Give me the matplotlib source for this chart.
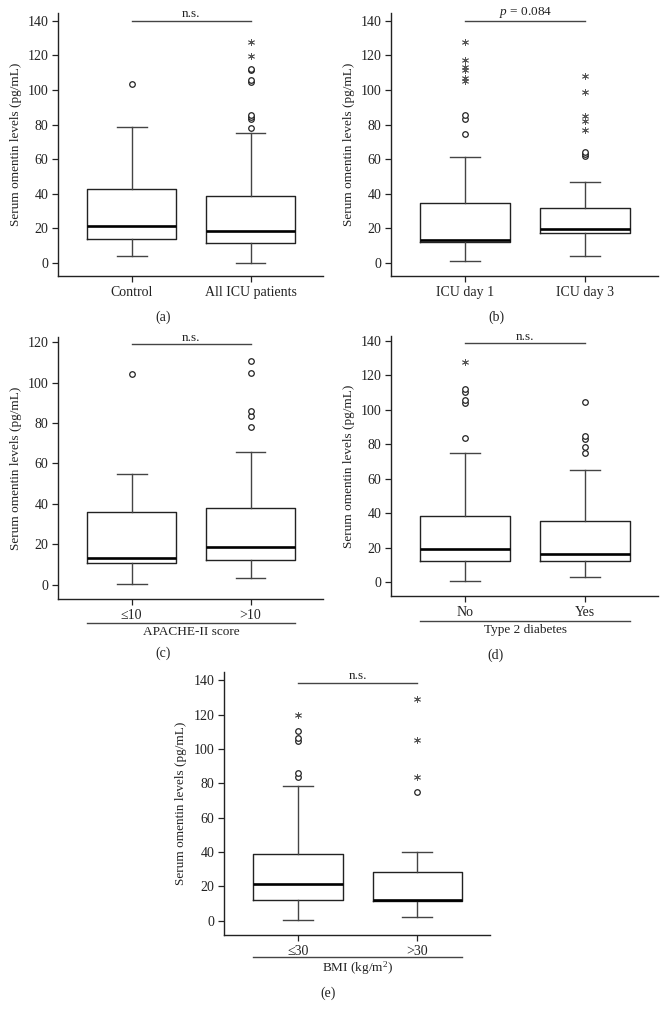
import matplotlib
matplotlib.use('Agg')
import matplotlib.pyplot as plt
import matplotlib.transforms as mtransforms

plt.rcParams['font.family'] = ['Liberation Serif', 'DejaVu Serif']
plt.rcParams['mathtext.fontset'] = 'custom'
plt.rcParams['mathtext.rm'] = 'Liberation Serif'
plt.rcParams['mathtext.it'] = 'Liberation Serif:italic'
plt.rcParams['font.size'] = 9.5
plt.rcParams['text.color'] = '#222222'
plt.rcParams['axes.labelcolor'] = '#222222'
plt.rcParams['xtick.color'] = '#222222'
plt.rcParams['ytick.color'] = '#222222'

W, H = 666, 1021

# box = [lower whisker, Q1, median, Q3, upper whisker]
# (a)
control_box = [3.9, 13.7, 21.2, 43.0, 78.7]
control_circles = [103.7]
control_stars = []
allicu_box = [0.2, 11.8, 18.5, 38.6, 75.2]
allicu_circles = [78.3, 83.5, 84.5, 85.8, 104.5, 105.7, 111.4, 112.4]
allicu_stars = [119.5, 128.0]

# (b)
day1_box = [1.0, 12.1, 13.5, 34.7, 61.3]
day1_circles = [74.8, 83.5, 85.4]
day1_stars = [105.3, 106.8, 111.8, 113.4, 117.6, 128.0]
day3_box = [4.0, 17.5, 19.7, 32.0, 46.7]
day3_circles = [62.0, 62.9, 64.2]
day3_stars = [77.0, 81.8, 84.8, 99.0, 108.0]

# (c)
apache_low_box = [0.5, 10.8, 13.3, 35.8, 54.8]
apache_low_circles = [104.3]
apache_low_stars = []
apache_high_box = [3.3, 12.5, 18.7, 37.9, 65.5]
apache_high_circles = [78.2, 83.4, 85.9, 104.6, 110.7]
apache_high_stars = []

# (d)
diab_no_box = [0.6, 12.4, 19.0, 38.6, 75.2]
diab_no_circles = [83.8, 104.1, 106.0, 110.5, 111.9]
diab_no_stars = [128.0]
diab_yes_box = [2.7, 12.4, 16.1, 35.7, 65.3]
diab_yes_circles = [74.7, 78.5, 82.8, 84.7, 104.5]
diab_yes_stars = []

# (e)
bmi_low_box = [0.2, 12.2, 21.5, 38.7, 78.2]
bmi_low_circles = [83.5, 85.8, 104.6, 106.1, 110.6]
bmi_low_stars = [119.9]
bmi_high_box = [2.1, 11.6, 12.2, 28.1, 39.9]
bmi_high_circles = [74.7]
bmi_high_stars = [83.8, 105.1, 128.8]


def px_axes(fig, left, top, right, bottom):
    return fig.add_axes([left / W, 1 - bottom / H, (right - left) / W, (bottom - top) / H])


def draw_panel(ax, names, boxes, circles, stars, ylim, ymax_tick, sig_y, sig_text,
               group_label=None, group_y=None, ylabel_x=-0.135):
    stats = []
    for b in boxes:
        stats.append(dict(whislo=b[0], q1=b[1], med=b[2], q3=b[3], whishi=b[4], fliers=[]))
    ax.bxp(stats, positions=[1, 2], widths=0.75, capwidths=0.25, showfliers=False,
           boxprops=dict(color='#222222', linewidth=1.0),
           medianprops=dict(color='black', linewidth=1.9),
           whiskerprops=dict(color='#444444', linewidth=1.0),
           capprops=dict(color='#444444', linewidth=1.0))
    for i, (c, s) in enumerate(zip(circles, stars)):
        pos = i + 1
        if c:
            ax.plot([pos] * len(c), c, linestyle='none', marker='o', ms=4,
                    mfc='white', mec='#222222', mew=0.9)
        if s:
            ax.plot([pos] * len(s), s, linestyle='none', marker=(6, 2, 0), ms=5,
                    color='#555555', mew=0.6)
    ax.set_xlim(0.38, 2.61)
    ax.set_ylim(*ylim)
    ax.set_yticks(range(0, ymax_tick + 1, 20))
    ax.set_xticks([1, 2])
    ax.set_xticklabels(names)
    for sp in ['top', 'right']:
        ax.spines[sp].set_visible(False)
    for sp in ['left', 'bottom']:
        ax.spines[sp].set_color('#222222')
        ax.spines[sp].set_linewidth(1.0)
    ax.tick_params(direction='out', length=4, width=0.9, pad=3, labelsize=10)
    ax.set_ylabel('Serum omentin levels (pg/mL)')
    ax.yaxis.set_label_coords(ylabel_x, 0.5)

    ax.plot([1, 2], [sig_y, sig_y], color='#444444', lw=1.0, clip_on=False)
    ax.annotate(sig_text, (1.5, sig_y), xytext=(0, 0.3), textcoords='offset points',
                ha='center', va='bottom')

    if group_label:
        tr = mtransforms.blended_transform_factory(ax.transData, ax.transAxes)
        ax.plot([1 - 0.375, 2 + 0.375], [group_y, group_y], color='#444444', lw=1.0,
                transform=tr, clip_on=False)
        ax.text(1.5, group_y - 0.01, group_label, transform=tr, ha='center', va='top')


fig = plt.figure(figsize=(W / 100, H / 100), dpi=100)

ax_a = px_axes(fig, 58, 13, 323, 276)
draw_panel(ax_a, ['Control', 'All ICU patients'],
           [control_box, allicu_box], [control_circles, allicu_circles],
           [control_stars, allicu_stars], (-7.5, 144.5), 140, 140, 'n.s.')

ax_b = px_axes(fig, 391, 13, 658, 276)
draw_panel(ax_b, ['ICU day 1', 'ICU day 3'],
           [day1_box, day3_box], [day1_circles, day3_circles],
           [day1_stars, day3_stars], (-7.5, 144.5), 140, 140, '$p$ = 0.084')

ax_c = px_axes(fig, 58, 337, 323, 599)
draw_panel(ax_c, ['\u226410', '>10'],
           [apache_low_box, apache_high_box], [apache_low_circles, apache_high_circles],
           [apache_low_stars, apache_high_stars], (-7.0, 122.5), 120, 119, 'n.s.',
           group_label='APACHE-II score', group_y=-24 / 262)

ax_d = px_axes(fig, 391, 336, 658, 596)
draw_panel(ax_d, ['No', 'Yes'],
           [diab_no_box, diab_yes_box], [diab_no_circles, diab_yes_circles],
           [diab_no_stars, diab_yes_stars], (-8.1, 142.9), 140, 138.6, 'n.s.',
           group_label='Type 2 diabetes', group_y=-25 / 260)

ax_e = px_axes(fig, 224, 672, 490, 935)
draw_panel(ax_e, ['\u226430', '>30'],
           [bmi_low_box, bmi_high_box], [bmi_low_circles, bmi_high_circles],
           [bmi_low_stars, bmi_high_stars], (-8.3, 144.8), 140, 138.6, 'n.s.',
           group_label='BMI (kg/m$^2$)', group_y=-22 / 263, ylabel_x=-0.139)

for lab, x, y in [('(a)', 163, 317), ('(b)', 496, 317), ('(c)', 163, 653),
                  ('(d)', 496, 655), ('(e)', 328, 993)]:
    fig.text(x / W, 1 - y / H, lab, ha='center', va='center', fontsize=10)

fig.savefig('out.png', dpi=100)
